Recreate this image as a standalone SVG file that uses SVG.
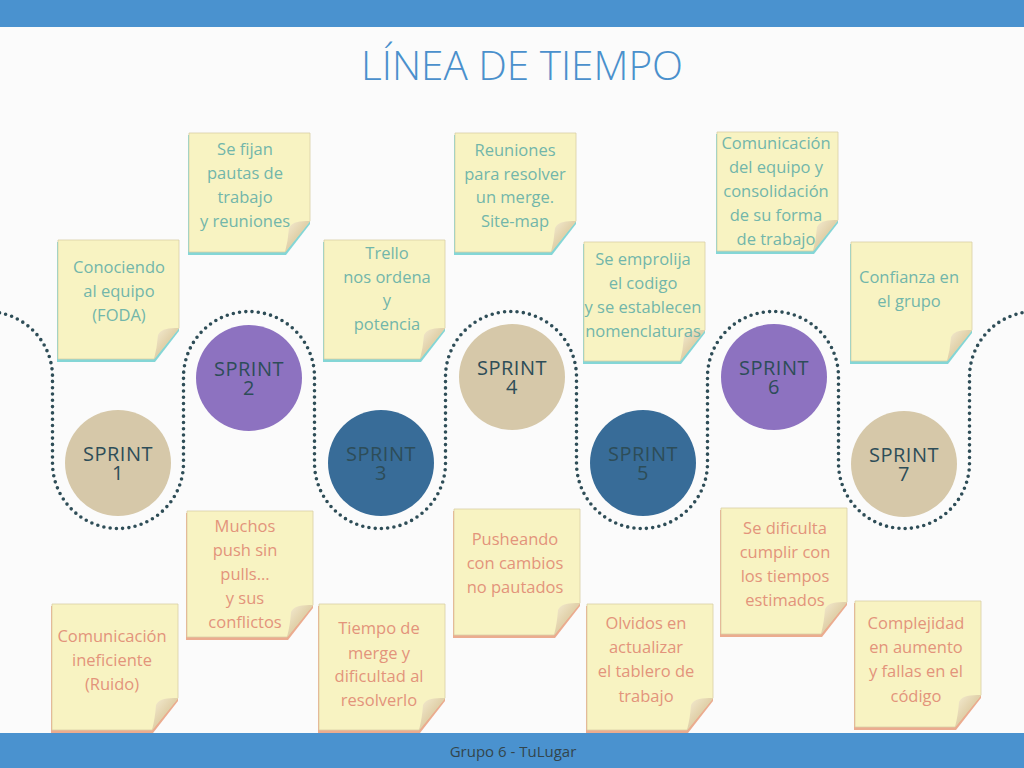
<svg xmlns="http://www.w3.org/2000/svg" xmlns:xlink="http://www.w3.org/1999/xlink" width="1024" height="768" viewBox="0 0 1024 768">
  <defs>
    <linearGradient id="curl" x1="0" y1="0" x2="1" y2="1">
      <stop offset="0" stop-color="#f6eed4"/>
      <stop offset="0.6" stop-color="#dccaa0"/>
      <stop offset="1" stop-color="#c4ad80"/>
    </linearGradient>
    <g id="noteTop">
      <path d="M-1,2 H121 V91 L97,122 H-1 Z" fill="#6fcfcf" opacity="0.85"/>
      <path d="M0,0 H121 V88 L96,119 H0 Z" fill="#f8f3c2" stroke="#d9cfa6" stroke-width="0.8"/>
      <path d="M121,88 Q103,87 100,95 Q99,108 96,119 Z" fill="url(#curl)"/>
    </g>
    <g id="noteBot">
      <path d="M-1,2 H126 V97 L101,129 H-1 Z" fill="#e9a383" opacity="0.9"/>
      <path d="M0,0 H126 V94 L100,126 H0 Z" fill="#f8f3c2" stroke="#d9cfa6" stroke-width="0.8"/>
      <path d="M126,94 Q107,93 104,101 Q103,115 100,126 Z" fill="url(#curl)"/>
    </g>
  </defs>
  <style>
    .bar { fill: #4a92cf; }
    .title { font-family: "Open Sans", "Liberation Sans", sans-serif; font-weight: 300; font-size: 40px; fill: #4a90cc; }
    .foot { font-family: "Open Sans", "Liberation Sans", sans-serif; font-size: 15px; fill: #33454c; }
    .tt { font-family: "Open Sans", "Liberation Sans", sans-serif; font-size: 16.5px; fill: #72b6aa; text-anchor: middle; }
    .bt { font-family: "Open Sans", "Liberation Sans", sans-serif; font-size: 16.5px; fill: #e3947b; text-anchor: middle; }
    .sp { font-family: "Open Sans", "Liberation Sans", sans-serif; font-size: 20px; fill: #2d4d58; text-anchor: middle; letter-spacing: 0.5px; }
    .path { fill: none; stroke: #2e4d57; stroke-width: 3.6; stroke-dasharray: 0 6.3; stroke-linecap: round; }
    .tan { fill: #d6c8a9; }
    .pur { fill: #8d72c0; }
    .blu { fill: #386c98; }
  </style>

  <rect x="0" y="0" width="1024" height="768" fill="#fbfbfb"/>
  <rect class="bar" x="0" y="0" width="1024" height="27"/>
  <text class="title" x="522" y="80" text-anchor="middle" textLength="322" lengthAdjust="spacingAndGlyphs">LÍNEA DE TIEMPO</text>

  <g id="connectors">
    <path class="path" d="M-13,311.5 A65.5,65.5 0 0 1 52.5,377 V463 A65.5,65.5 0 0 0 183.5,463 V377 A65.5,65.5 0 0 1 314.5,377 V463 A65.5,65.5 0 0 0 445.5,463 V377 A65.5,65.5 0 0 1 576.5,377 V463 A65.5,65.5 0 0 0 707.5,463 V377 A65.5,65.5 0 0 1 838.5,377 V463 A65.5,65.5 0 0 0 969.5,463 V377 A65.5,65.5 0 0 1 1035,311.5"/>
  </g>

  <g id="sprint1"><circle class="tan" cx="118" cy="463" r="53"/><text class="sp"><tspan x="118" y="461">SPRINT</tspan><tspan x="118" dy="19">1</tspan></text></g>
  <g id="sprint2"><circle class="pur" cx="249" cy="378" r="53"/><text class="sp"><tspan x="249" y="376">SPRINT</tspan><tspan x="249" dy="19">2</tspan></text></g>
  <g id="sprint3"><circle class="blu" cx="381" cy="463" r="53"/><text class="sp"><tspan x="381" y="461">SPRINT</tspan><tspan x="381" dy="19">3</tspan></text></g>
  <g id="sprint4"><circle class="tan" cx="512" cy="377" r="53"/><text class="sp"><tspan x="512" y="375">SPRINT</tspan><tspan x="512" dy="19">4</tspan></text></g>
  <g id="sprint5"><circle class="blu" cx="643" cy="463" r="53"/><text class="sp"><tspan x="643" y="461">SPRINT</tspan><tspan x="643" dy="19">5</tspan></text></g>
  <g id="sprint6"><circle class="pur" cx="774" cy="377" r="53"/><text class="sp"><tspan x="774" y="375">SPRINT</tspan><tspan x="774" dy="19">6</tspan></text></g>
  <g id="sprint7"><circle class="tan" cx="904" cy="464" r="53"/><text class="sp"><tspan x="904" y="462">SPRINT</tspan><tspan x="904" dy="19">7</tspan></text></g>

  <g id="note-t1"><use xlink:href="#noteTop" x="58" y="240"/>
    <text class="tt"><tspan x="119" y="273">Conociendo</tspan><tspan x="119" y="297">al equipo</tspan><tspan x="119" y="321">(FODA)</tspan></text></g>
  <g id="note-t2"><use xlink:href="#noteTop" x="189" y="133"/>
    <text class="tt"><tspan x="245" y="155">Se fijan</tspan><tspan x="245" y="179">pautas de</tspan><tspan x="245" y="203">trabajo</tspan><tspan x="245" y="227">y reuniones</tspan></text></g>
  <g id="note-t3"><use xlink:href="#noteTop" x="324" y="240"/>
    <text class="tt"><tspan x="387" y="259">Trello</tspan><tspan x="387" y="283">nos ordena</tspan><tspan x="387" y="306">y</tspan><tspan x="387" y="330">potencia</tspan></text></g>
  <g id="note-t4"><use xlink:href="#noteTop" x="455" y="133"/>
    <text class="tt"><tspan x="515" y="156">Reuniones</tspan><tspan x="515" y="180">para resolver</tspan><tspan x="515" y="203">un merge.</tspan><tspan x="515" y="227">Site-map</tspan></text></g>
  <g id="note-t5"><use xlink:href="#noteTop" x="584" y="242"/>
    <text class="tt"><tspan x="643" y="265">Se emprolija</tspan><tspan x="643" y="289">el codigo</tspan><tspan x="643" y="313">y se establecen</tspan><tspan x="643" y="337">nomenclaturas</tspan></text></g>
  <g id="note-t6"><use xlink:href="#noteTop" x="717" y="132"/>
    <text class="tt"><tspan x="776" y="149">Comunicación</tspan><tspan x="776" y="173">del equipo y</tspan><tspan x="776" y="197">consolidación</tspan><tspan x="776" y="221">de su forma</tspan><tspan x="776" y="245">de trabajo</tspan></text></g>
  <g id="note-t7"><use xlink:href="#noteTop" x="851" y="242"/>
    <text class="tt"><tspan x="909" y="283">Confianza en</tspan><tspan x="909" y="307">el grupo</tspan></text></g>

  <g id="note-b1"><use xlink:href="#noteBot" x="52" y="604"/>
    <text class="bt"><tspan x="112" y="642">Comunicación</tspan><tspan x="112" y="666">ineficiente</tspan><tspan x="112" y="690">(Ruido)</tspan></text></g>
  <g id="note-b2"><use xlink:href="#noteBot" x="187" y="511"/>
    <text class="bt"><tspan x="245" y="532">Muchos</tspan><tspan x="245" y="556">push sin</tspan><tspan x="245" y="580">pulls...</tspan><tspan x="245" y="604">y sus</tspan><tspan x="245" y="628">conflictos</tspan></text></g>
  <g id="note-b3"><use xlink:href="#noteBot" x="319" y="604"/>
    <text class="bt"><tspan x="379" y="634">Tiempo de</tspan><tspan x="379" y="659">merge y</tspan><tspan x="379" y="682">dificultad al</tspan><tspan x="379" y="706">resolverlo</tspan></text></g>
  <g id="note-b4"><use xlink:href="#noteBot" x="454" y="509"/>
    <text class="bt"><tspan x="515" y="545">Pusheando</tspan><tspan x="515" y="569">con cambios</tspan><tspan x="515" y="593">no pautados</tspan></text></g>
  <g id="note-b5"><use xlink:href="#noteBot" x="587" y="604"/>
    <text class="bt"><tspan x="646" y="629">Olvidos en</tspan><tspan x="646" y="653">actualizar</tspan><tspan x="646" y="677">el tablero de</tspan><tspan x="646" y="702">trabajo</tspan></text></g>
  <g id="note-b6"><use xlink:href="#noteBot" x="721" y="508"/>
    <text class="bt"><tspan x="785" y="534">Se dificulta</tspan><tspan x="785" y="558">cumplir con</tspan><tspan x="785" y="582">los tiempos</tspan><tspan x="785" y="606">estimados</tspan></text></g>
  <g id="note-b7"><use xlink:href="#noteBot" x="855" y="601"/>
    <text class="bt"><tspan x="916" y="629">Complejidad</tspan><tspan x="916" y="653">en aumento</tspan><tspan x="916" y="677">y fallas en el</tspan><tspan x="916" y="702">código</tspan></text></g>

  <rect class="bar" x="0" y="733" width="1024" height="35"/>
  <text class="foot" x="513" y="757" text-anchor="middle">Grupo 6 - TuLugar</text>
</svg>
